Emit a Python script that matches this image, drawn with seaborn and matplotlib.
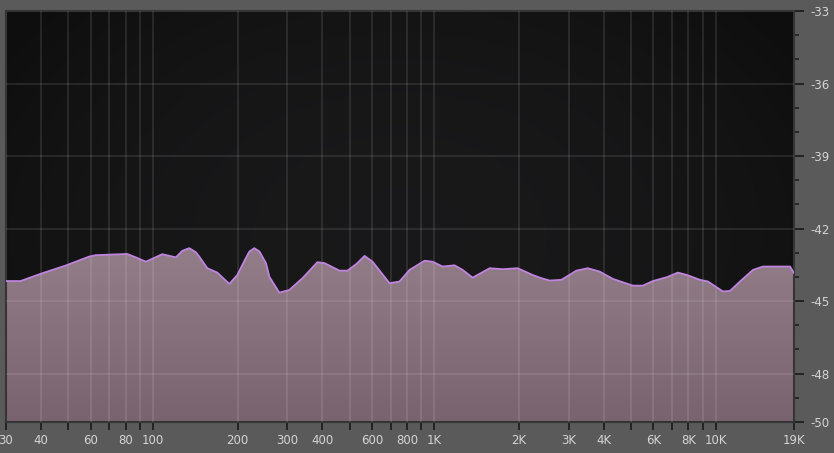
import numpy as np
import pandas as pd
import matplotlib
matplotlib.use("Agg")
import matplotlib.pyplot as plt
import seaborn as sns
from matplotlib.colors import LinearSegmentedColormap

# spectrum (Hz, dB)
freq_hz = [30, 33.8, 40.3, 48.9, 59.2, 62.6, 80.9, 86.8, 94.3, 107.8, 120.6, 127,
           134.5, 142, 146, 155.9, 169.2, 186.7, 199.3, 212, 220, 229, 239, 252, 259,
           281, 305, 340, 384, 407, 460, 491, 530, 565, 603, 693, 752, 816, 923, 986,
           1070, 1180, 1261, 1368, 1573, 1750, 1979, 2237, 2400, 2572, 2830, 3200,
           3513, 3874, 4310, 5079, 5515, 5983, 6711, 7344, 7909, 8797, 9393, 10620,
           11250, 12210, 13580, 14740, 17370, 18400, 19000]
level_db = [-44.17, -44.17, -43.85, -43.53, -43.16, -43.10, -43.05, -43.19, -43.37,
            -43.06, -43.19, -42.92, -42.81, -42.98, -43.16, -43.64, -43.82, -44.29,
            -43.92, -43.30, -42.95, -42.81, -42.95, -43.43, -43.99, -44.65, -44.54,
            -44.05, -43.39, -43.43, -43.74, -43.74, -43.45, -43.13, -43.37, -44.26,
            -44.19, -43.71, -43.33, -43.37, -43.57, -43.52, -43.71, -44.03, -43.64,
            -43.68, -43.64, -43.92, -44.05, -44.15, -44.12, -43.74, -43.64, -43.78,
            -44.08, -44.36, -44.36, -44.17, -44.01, -43.82, -43.92, -44.12, -44.19,
            -44.60, -44.58, -44.19, -43.71, -43.57, -43.57, -43.57, -43.85]

x_ticks = [30, 40, 50, 60, 70, 80, 90, 100, 200, 300, 400, 500, 600, 700, 800, 900,
           1000, 2000, 3000, 4000, 5000, 6000, 7000, 8000, 9000, 10000, 19000]
x_labels = ["30", "40", "", "60", "", "80", "", "100", "200", "300", "400", "", "600",
            "", "800", "", "1K", "2K", "3K", "4K", "", "6K", "", "8K", "", "10K", "19K"]
y_ticks = [-33, -36, -39, -42, -45, -48, -50]
y_labels = ["-33", "-36", "-39", "-42", "-45", "-48", "-50"]

df = pd.DataFrame({"freq": freq_hz, "db": level_db})

sns.set_theme(style="dark", rc={"figure.facecolor": "#5a5a5a",
                                "axes.facecolor": "#161616"})
plt.rcParams["font.family"] = ["Liberation Sans Narrow", "DejaVu Sans"]

fig = plt.figure(figsize=(8.34, 4.53), dpi=100)
ax = fig.add_axes([6 / 834, 31 / 453, 788 / 834, 411 / 453])

# dark vignette behind everything
yy, xx = np.mgrid[0:1:200j, 0:1:400j]
r = np.clip(((xx - 0.5) / 0.6) ** 2 + ((yy - 0.45) / 0.8) ** 2, 0, 1)
shade = 0.098 - 0.04 * r
vig = np.dstack([shade, shade, shade * 1.05])
ax.imshow(vig, extent=[0, 1, 0, 1], transform=ax.transAxes, origin="lower",
          aspect="auto", zorder=0)

poly = ax.fill_between(df["freq"], df["db"], -50, color="#86707e", lw=0, zorder=1)
grad = np.linspace(0, 1, 256).reshape(-1, 1)
fill_cmap = LinearSegmentedColormap.from_list("f", ["#78636e", "#927d88"])
img = ax.imshow(grad, extent=[0, 1, 0, 0.42], transform=ax.transAxes, origin="lower",
                cmap=fill_cmap, aspect="auto", zorder=1.5)
img.set_clip_path(poly.get_paths()[0], ax.transData)

sns.lineplot(data=df, x="freq", y="db", ax=ax, color="#c084e0", lw=1.3, zorder=4)

ax.set_xscale("log")
ax.set_xlim(30, 19000)
ax.set_ylim(-50, -33)

ax.set_xticks(x_ticks)
ax.set_xticklabels(x_labels)
ax.xaxis.set_minor_locator(matplotlib.ticker.NullLocator())
ax.set_yticks(y_ticks)
ax.set_yticklabels(y_labels)
ax.set_yticks(np.arange(-50, -32, 1), minor=True)
ax.yaxis.tick_right()

ax.tick_params(axis="x", which="major", bottom=True, length=6, width=1.3, pad=3,
               color="#1e1e1e", labelcolor="#d4d4d4", labelsize=8.5)
ax.tick_params(axis="y", which="major", right=True, left=False, length=7, width=1.3,
               pad=5, color="#1e1e1e", labelcolor="#d4d4d4", labelsize=8.5)
ax.tick_params(axis="y", which="minor", right=True, left=False, length=3.5, width=1.2,
               color="#1e1e1e")

# grid, lighter inside the fill
for f in x_ticks[1:-1]:
    ax.axvline(f, color="white", alpha=0.13, lw=1.1, zorder=3)
for d in y_ticks[1:-1]:
    ax.axhline(d, color="white", alpha=0.12, lw=1.1, zorder=3)
ax.grid(False)

ax.set_xlabel("")
ax.set_ylabel("")
for s in ax.spines.values():
    s.set_visible(True)
    s.set_color("#353535")
    s.set_linewidth(1.5)

fig.savefig("out.png", dpi=100, facecolor=fig.get_facecolor())
